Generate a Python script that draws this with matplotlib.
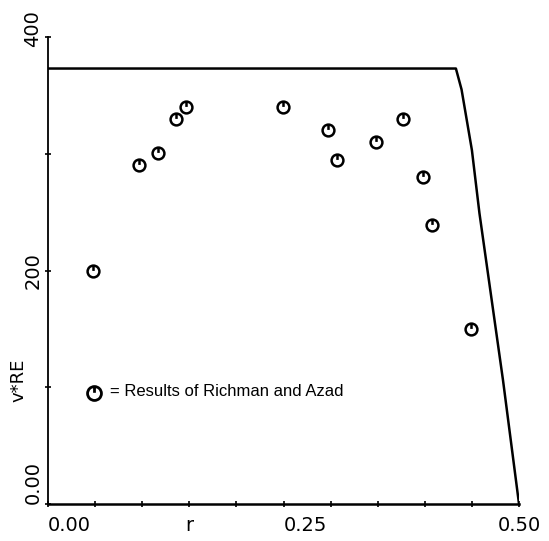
import numpy as np
import matplotlib
matplotlib.use('Agg')
import matplotlib.pyplot as plt
from matplotlib.path import Path
from matplotlib.transforms import ScaledTranslation

# measured points (Richman and Azad)
r_pts = [0.048, 0.097, 0.117, 0.136, 0.147, 0.249, 0.297, 0.307, 0.348, 0.377, 0.398, 0.408, 0.449]
v_pts = [200, 290, 301, 330, 340, 340, 320, 295, 310, 330, 280, 239, 150]

# computed profile
r_line = [0.0, 0.433, 0.439, 0.450, 0.458, 0.483, 0.500]
v_line = [373, 373, 355, 303, 249, 106, 0]

xticks = np.arange(0, 0.501, 0.05)
xlabels = ['0.00', '', '', 'r', '', '0.25', '', '', '', '', '0.50']
yticks = [0, 100, 200, 300, 400]
ylabels = ['0.00', '', '200', '', '400']

# circle with a short stroke from the top down to the centre
circ = Path.unit_circle()
verts = list(circ.vertices) + [(0, 1), (0, 0.1)]
codes = list(circ.codes) + [Path.MOVETO, Path.LINETO]
mark = Path(verts, codes)

plt.rcParams['font.family'] = 'DejaVu Sans'
fig = plt.figure(figsize=(5.49, 5.41), dpi=100)
ax = fig.add_axes([0.0874, 0.0684, 0.858, 0.8632])

ax.plot(r_line, v_line, color='black', lw=1.8)
ax.plot(r_pts, v_pts, ls='none', marker=mark, ms=8.5, mfc='none', mec='black', mew=1.8)

ax.set_xlim(0, 0.5)
ax.set_ylim(0, 400)
ax.spines['top'].set_visible(False)
ax.spines['right'].set_visible(False)
ax.spines['left'].set_linewidth(1.3)
ax.spines['bottom'].set_linewidth(1.8)

ax.set_xticks(xticks)
ax.set_xticklabels(xlabels, fontsize=14)
ax.set_yticks(yticks)
ax.set_yticklabels(ylabels, fontsize=14, rotation=90, va='center')
ax.tick_params(direction='inout', length=4, width=1.2)
ax.tick_params(axis='x', pad=7)
ax.tick_params(axis='y', pad=2)

xt = ax.get_xticklabels()
xt[0].set_ha('left')
xt[5].set_ha('left')
yt = ax.get_yticklabels()
yt[0].set_va('bottom')
yt[4].set_transform(yt[4].get_transform() + ScaledTranslation(0, 8 / 100, fig.dpi_scale_trans))

ax.text(-0.031, 106, 'v*RE', rotation=90, fontsize=13, ha='center', va='center',
        clip_on=False)

# key
ax.plot([0.049], [95], ls='none', marker=mark, ms=10, mfc='none', mec='black', mew=2)
ax.text(0.066, 96, '= Results of Richman and Azad', fontsize=12, va='center',
        family='Liberation Sans')

fig.savefig('out.png', dpi=100)
